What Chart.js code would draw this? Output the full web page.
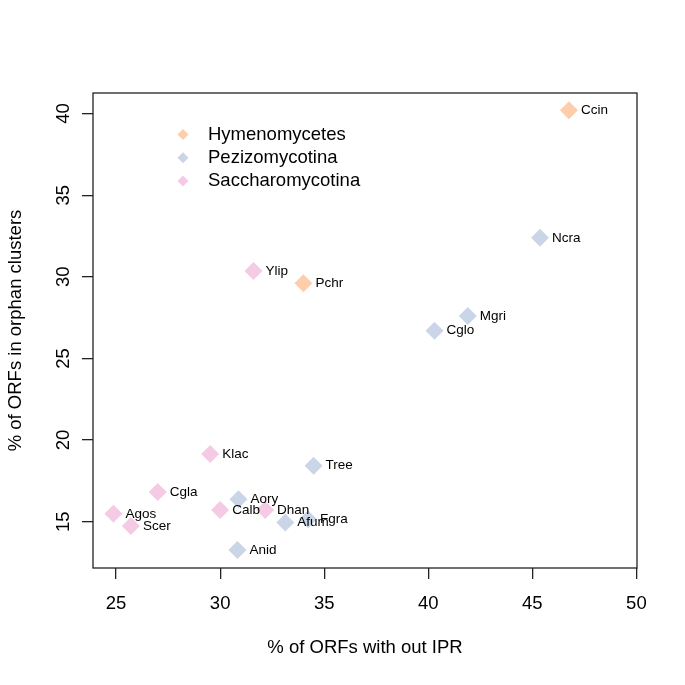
<!DOCTYPE html>
<html>
<head>
<meta charset="utf-8">
<script src="https://cdn.jsdelivr.net/npm/chart.js@4.4.0/dist/chart.umd.min.js"></script>
<style>
  html, body { margin: 0; padding: 0; background: #fff; }
</style>
</head>
<body>
<canvas id="myChart" width="685" height="685"></canvas>
<script>
// groups and colours (Pastel2)
const groups = ["Hymenomycetes", "Pezizomycotina", "Saccharomycotina"];
const groupColors = ["#FDCDAC", "#CBD5E8", "#F4CAE4"];

const hymNames = ["Ccin", "Pchr"];
const hymX = [46.76, 34.0];
const hymY = [40.2, 29.6];

const pezNames = ["Ncra", "Mgri", "Cglo", "Tree", "Aory", "Afum", "Fgra", "Anid"];
const pezX = [45.37, 41.9, 40.3, 34.49, 30.88, 33.13, 34.22, 30.83];
const pezY = [32.39, 27.6, 26.7, 18.43, 16.37, 14.94, 15.15, 13.27];

const sacNames = ["Ylip", "Klac", "Cgla", "Calb", "Dhan", "Agos", "Scer"];
const sacX = [31.6, 29.52, 27.0, 30.0, 32.16, 24.87, 25.71];
const sacY = [30.36, 19.15, 16.82, 15.72, 15.72, 15.48, 14.74];

const xTicks = [25, 30, 35, 40, 45, 50];
const yTicks = [15, 20, 25, 30, 35, 40];

const FONT = "'Liberation Sans', Arial, Helvetica, sans-serif";
Chart.defaults.font.family = FONT;

const makeSet = (label, names, xs, ys, color) => ({
  label: label,
  names: names,
  data: xs.map((x, i) => ({ x: x, y: ys[i] })),
  backgroundColor: color,
  borderWidth: 0,
  pointStyle: "rectRot",
  pointRadius: 9,
  pointHoverRadius: 9,
});

// box, point labels, rotated y tick labels and legend
const extras = {
  id: "extras",
  afterDatasetsDraw(chart) {
    const { ctx, chartArea: a, scales } = chart;
    ctx.save();
    ctx.strokeStyle = "#222";
    ctx.lineWidth = 1.3;
    ctx.strokeRect(a.left, a.top, a.right - a.left, a.bottom - a.top);

    // labels next to points
    ctx.fillStyle = "#000";
    ctx.font = "13.5px " + FONT;
    ctx.textAlign = "left";
    ctx.textBaseline = "middle";
    chart.data.datasets.forEach((ds, i) => {
      chart.getDatasetMeta(i).data.forEach((pt, j) => {
        ctx.fillText(ds.names[j], pt.x + 12, pt.y);
      });
    });

    // y tick labels, parallel to axis
    ctx.font = "18.5px " + FONT;
    ctx.textAlign = "center";
    ctx.textBaseline = "alphabetic";
    yTicks.forEach((v) => {
      const y = scales.y.getPixelForValue(v);
      ctx.save();
      ctx.translate(a.left - 24, y);
      ctx.rotate(-Math.PI / 2);
      ctx.fillText(String(v), 0, 0);
      ctx.restore();
    });

    // legend
    const lx = a.left + 90;
    const ly = a.top + 41.5;
    ctx.textAlign = "left";
    ctx.textBaseline = "middle";
    groups.forEach((g, i) => {
      const cy = ly + i * 23.3;
      ctx.fillStyle = groupColors[i];
      ctx.beginPath();
      ctx.moveTo(lx, cy - 5.5);
      ctx.lineTo(lx + 5.5, cy);
      ctx.lineTo(lx, cy + 5.5);
      ctx.lineTo(lx - 5.5, cy);
      ctx.closePath();
      ctx.fill();
      ctx.fillStyle = "#000";
      ctx.fillText(g, lx + 25, cy);
    });
    ctx.restore();
  },
};

const ctx = document.getElementById("myChart").getContext("2d");
const myChart = new Chart(ctx, {
  type: "scatter",
  data: {
    datasets: [
      makeSet(groups[0], hymNames, hymX, hymY, groupColors[0]),
      makeSet(groups[1], pezNames, pezX, pezY, groupColors[1]),
      makeSet(groups[2], sacNames, sacX, sacY, groupColors[2]),
    ],
  },
  options: {
    responsive: false,
    animation: false,
    events: [],
    layout: { padding: { top: 93, right: 48, left: 0, bottom: 0 } },
    plugins: {
      legend: { display: false },
      tooltip: { enabled: false },
    },
    scales: {
      x: {
        type: "linear",
        min: 23.89,
        max: 50.03,
        afterFit(s) { s.height = 117; },
        afterBuildTicks(s) { s.ticks = xTicks.map((v) => ({ value: v })); },
        grid: { drawOnChartArea: false, drawTicks: true, tickLength: 11, color: "#222", lineWidth: 1.3 },
        border: { display: false },
        ticks: { color: "#000", font: { size: 18.5 }, padding: 14, maxRotation: 0, autoSkip: false },
        title: {
          display: true,
          text: "% of ORFs with out IPR",
          color: "#000",
          font: { size: 18.5 },
          padding: { bottom: 26 },
        },
      },
      y: {
        type: "linear",
        min: 12.16,
        max: 41.26,
        afterFit(s) { s.width = 93; },
        afterBuildTicks(s) { s.ticks = yTicks.map((v) => ({ value: v })); },
        grid: { drawOnChartArea: false, drawTicks: true, tickLength: 11, color: "#222", lineWidth: 1.3 },
        border: { display: false },
        ticks: { display: false },
        title: {
          display: true,
          text: "% of ORFs in orphan clusters",
          color: "#000",
          font: { size: 18.5 },
          padding: { top: 5 },
        },
      },
    },
  },
  plugins: [extras],
});
</script>
</body>
</html>
